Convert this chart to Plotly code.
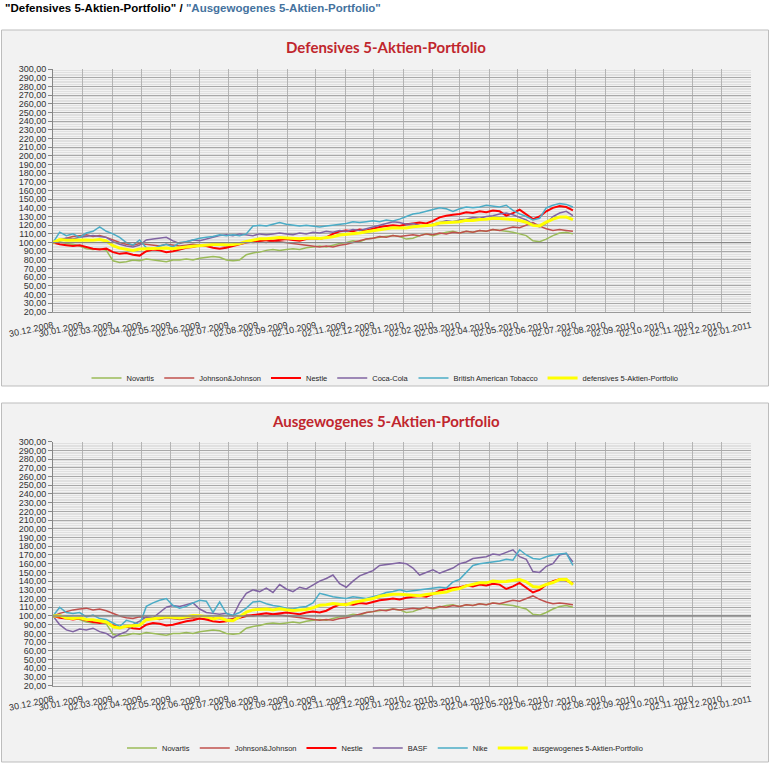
import pandas as pd
import plotly.graph_objects as go

# ---------------- data (weekly readings from the chart) ----------------
START = "2008-12-30"
N_WEEKS = 79
DATES = pd.date_range(START, periods=N_WEEKS, freq="7D")

NOVARTIS = [100,101,99,98,96,93,92,93,91,79,
            77,78,80,79,81,80,79,78,80,80,
            81,80,82,83,84,83,80,79,80,86,
            88,89,91,92,91,92,93,92,94,95,
            96,95,97,99,100,102,101,104,105,106,
            107,108,107,104,105,108,110,108,110,112,
            113,111,113,112,114,113,115,114,113,112,
            110,108,102,101,104,108,111,112,110]

JNJ = [100,103,105,107,108,109,107,108,106,103,
       100,98,97,99,98,97,96,98,97,96,
       97,98,97,96,98,97,96,97,99,101,
       100,101,100,102,101,100,99,98,97,96,
       95,96,95,97,98,100,102,104,105,107,
       106,108,107,108,109,108,110,109,111,110,
       112,111,113,112,114,113,115,114,116,118,
       117,120,123,119,116,114,115,114,113]

NESTLE = [100,98,97,96,97,95,93,92,93,89,
          87,88,86,85,90,92,91,89,90,92,
          94,95,97,96,94,93,94,96,98,100,
          101,102,103,102,103,104,103,102,104,105,
          104,106,110,113,114,113,115,114,116,118,
          119,120,119,121,122,123,122,125,129,131,
          132,133,135,134,136,135,137,136,131,134,
          138,133,127,130,136,140,142,141,137]

COCA_COLA = [100,103,105,104,106,107,108,107,106,101,
             98,96,95,97,103,104,105,106,102,99,
             101,103,102,104,106,108,109,108,110,109,
             108,110,109,110,111,110,109,111,110,112,
             111,113,112,114,113,115,114,116,118,120,
             122,124,123,121,122,120,119,121,123,125,
             124,126,127,129,128,130,131,133,134,132,
             129,126,121,118,122,130,134,136,131]

BAT = [100,112,108,110,106,111,113,118,113,110,
       106,100,97,103,94,93,96,98,95,100,
       101,103,105,106,107,109,108,109,108,110,
       119,120,119,121,123,121,120,119,120,119,
       118,119,120,121,122,124,123,124,125,124,
       126,125,127,130,133,134,136,138,140,139,
       136,139,141,140,141,143,142,141,143,137,
       133,130,126,128,140,143,145,144,141]

DEFENSIV = [100,103.4,102.8,103,102.6,103,102.6,103.6,101.8,96.4,
            93.6,92,91,92.6,93.2,93.2,93.4,93.8,92.8,93.4,
            94.8,95.8,96.6,97,97.8,98,97.4,97.8,99,101.2,
            103.2,104.4,104.4,105.4,105.8,105.4,104.8,104.4,105,105.4,
            104.8,105.8,106.8,108.8,109.4,110.8,111,112.4,113.8,115,
            116,117,116.6,116.8,118.2,118.6,119.4,120.2,122.6,123.4,
            123.4,124,125.8,125.4,126.6,126.8,128,127.6,127.4,126.6,
            125.4,123.4,119.8,119.2,123.6,127,129.4,129.4,126.4]

BASF = [100,90,84,82,85,84,86,82,80,75,
        79,82,90,94,99,98,104,110,112,111,
        113,115,108,104,103,102,103,100,115,126,
        130,128,132,127,136,131,128,133,131,136,
        140,143,147,137,133,140,146,149,152,158,
        159,160,161,160,155,147,150,153,149,152,
        155,160,162,166,167,168,171,170,173,176,
        168,165,151,150,157,160,170,172,162]

NIKE = [100,110,104,103,104,99,101,97,96,92,
        88,95,93,90,111,115,118,120,112,109,
        111,115,118,117,104,116,103,101,104,109,
        116,117,114,112,111,109,108,110,111,115,
        126,124,122,121,120,122,121,120,122,124,
        127,128,130,128,129,130,131,132,133,132,
        139,142,150,158,160,161,162,163,165,164,
        176,170,166,165,168,170,171,172,158]

AUSGEWOGEN = [100,100.4,97.8,97.2,98,96,95.8,94.4,93.2,87.6,
              86.2,88.2,89.2,89.4,95.8,96.4,97.6,99,98.2,97.6,
              99.2,100.6,100.4,99.2,96.6,98.2,95.2,94.6,99.2,104.4,
              107,107.4,108,107,108.4,107.2,106.2,107,107.4,109.4,
              112.2,112.8,114.2,113.4,113,115.4,117,118.2,120,122.6,
              123.6,124.8,124.8,124.2,124,123.2,124.6,125.4,126.4,127.4,
              130.2,131.4,134.6,136.4,138.2,138,140,139.4,139.6,140.8,
              141.8,139.2,133.8,133,136.2,138.4,141.8,142.2,136]

TICK_DATES = ["2008-12-30","2009-01-30","2009-03-02","2009-04-02","2009-05-02",
              "2009-06-02","2009-07-02","2009-08-02","2009-09-02","2009-10-02",
              "2009-11-02","2009-12-02","2010-01-02","2010-02-02","2010-03-02",
              "2010-04-02","2010-05-02","2010-06-02","2010-07-02","2010-08-02",
              "2010-09-02","2010-10-02","2010-11-02","2010-12-02","2011-01-02"]
X_RANGE = ["2008-12-30", "2011-01-02"]
Y_RANGE = [20, 300]

TITLE1 = "Defensives 5-Aktien-Portfolio"
TITLE2 = "Ausgewogenes 5-Aktien-Portfolio"

CHART1 = [("Novartis", NOVARTIS, "#9bbb59", 1.5),
          ("Johnson&Johnson", JNJ, "#c0504d", 1.5),
          ("Nestle", NESTLE, "#ff0000", 2),
          ("Coca-Cola", COCA_COLA, "#8064a2", 1.5),
          ("British American Tobacco", BAT, "#4bacc6", 1.5),
          ("defensives 5-Aktien-Portfolio", DEFENSIV, "#ffff00", 3)]
CHART2 = [("Novartis", NOVARTIS, "#9bbb59", 1.5),
          ("Johnson&Johnson", JNJ, "#c0504d", 1.5),
          ("Nestle", NESTLE, "#ff0000", 2),
          ("BASF", BASF, "#8064a2", 1.5),
          ("Nike", NIKE, "#4bacc6", 1.5),
          ("ausgewogenes 5-Aktien-Portfolio", AUSGEWOGEN, "#ffff00", 3)]

# ---------------- figure ----------------
W, H = 770, 763
def py(px):
    return 1 - px / H
def pxx(px):
    return px / W

fig = go.Figure()
for name, vals, col, lw in CHART1:
    fig.add_trace(go.Scatter(x=DATES, y=vals, name=name, mode="lines",
                             line=dict(color=col, width=lw),
                             xaxis="x", yaxis="y", legend="legend"))
for name, vals, col, lw in CHART2:
    fig.add_trace(go.Scatter(x=DATES, y=vals, name=name, mode="lines",
                             line=dict(color=col, width=lw),
                             xaxis="x2", yaxis="y2", legend="legend2"))

tickfont = dict(family="Liberation Sans", size=9, color="#333333")
xcommon = dict(type="date", range=X_RANGE, tickvals=TICK_DATES, tickformat="%d.%m.%Y",
               tickangle=-12, tickfont=tickfont, showgrid=True, gridcolor="#b4b4b4",
               gridwidth=1, showline=True, linecolor="#9a9a9a", ticks="", zeroline=False,
               domain=[pxx(53), pxx(751)], fixedrange=True, automargin=False,
               ticklabelstandoff=4)
ycommon = dict(range=Y_RANGE, dtick=10, tick0=0, tickformat=".2f", tickfont=tickfont,
               showgrid=True, gridcolor="#a8a8a8", gridwidth=1,
               minor=dict(dtick=2, showgrid=True, gridcolor="#e0e0e0", gridwidth=1),
               showline=True, linecolor="#868686", ticks="outside", ticklen=4,
               tickcolor="#868686", zeroline=False, fixedrange=True, automargin=False)

legfont = dict(family="Liberation Sans", size=7.5, color="#1f1f1f")

fig.update_layout(
    width=W, height=H, autosize=False,
    margin=dict(l=0, r=0, t=0, b=0, pad=0, autoexpand=False),
    paper_bgcolor="white", plot_bgcolor="#f2f2f2",
    separators=",.",
    showlegend=True,
    xaxis=dict(xcommon, anchor="y"),
    yaxis=dict(ycommon, anchor="x", domain=[py(312), py(69)]),
    xaxis2=dict(xcommon, anchor="y2"),
    yaxis2=dict(ycommon, anchor="x2", domain=[py(685.7), py(441.7)]),
    legend=dict(orientation="h", x=0.5, xanchor="center", y=py(378), yanchor="middle",
                font=legfont, bgcolor="rgba(0,0,0,0)", itemwidth=30),
    legend2=dict(orientation="h", x=0.5, xanchor="center", y=py(748), yanchor="middle",
                 font=legfont, bgcolor="rgba(0,0,0,0)", itemwidth=30),
    shapes=[
        dict(type="rect", xref="paper", yref="paper", x0=pxx(1.5), x1=pxx(768.5),
             y0=py(386), y1=py(30), fillcolor="#f2f2f2", line=dict(color="#bdbdbd", width=1),
             layer="below"),
        dict(type="rect", xref="paper", yref="paper", x0=pxx(1.5), x1=pxx(768.5),
             y0=py(762), y1=py(403), fillcolor="#f2f2f2", line=dict(color="#bdbdbd", width=1),
             layer="below"),
        dict(type="line", xref="x domain", yref="y", x0=0, x1=1, y0=100, y1=100,
             line=dict(color="#868686", width=1.3)),
        dict(type="line", xref="x2 domain", yref="y2", x0=0, x1=1, y0=100, y1=100,
             line=dict(color="#868686", width=1.3)),
    ],
    annotations=[
        dict(xref="paper", yref="paper", x=pxx(3), y=py(8), xanchor="left", yanchor="middle",
             showarrow=False,
             text='<b>"Defensives 5-Aktien-Portfolio" / </b><b><span style="color:#44729e">"Ausgewogenes 5-Aktien-Portfolio"</span></b>',
             font=dict(family="Liberation Sans", size=11.5, color="#000000")),
        dict(xref="paper", yref="paper", x=pxx(386), y=py(47), xanchor="center", yanchor="middle",
             showarrow=False, text="<b>" + TITLE1 + "</b>",
             font=dict(family="Lato", size=15, color="#c0262d")),
        dict(xref="paper", yref="paper", x=pxx(386), y=py(421), xanchor="center", yanchor="middle",
             showarrow=False, text="<b>" + TITLE2 + "</b>",
             font=dict(family="Lato", size=15, color="#c0262d")),
    ],
)

fig.write_html("out.html", config={"displayModeBar": False},
               post_script="document.body.style.margin='0';")
